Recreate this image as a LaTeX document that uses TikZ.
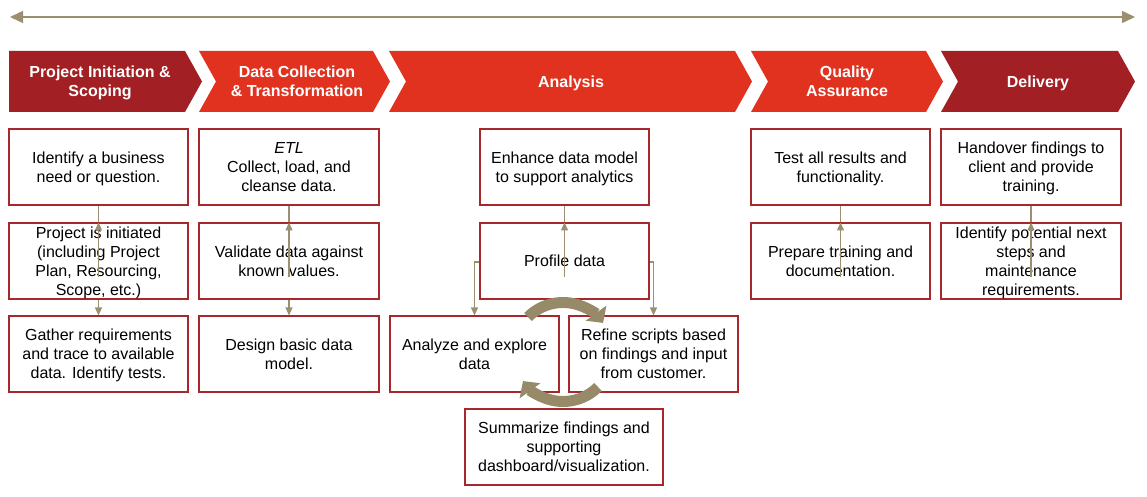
\documentclass[tikz,border=0pt]{standalone}
\usepackage{fontspec}
\setmainfont{Liberation Sans}
\usetikzlibrary{arrows.meta}
\definecolor{phasedark}{HTML}{A21F23}
\definecolor{phaselight}{HTML}{E1321F}
\definecolor{boxred}{HTML}{A5282C}
\definecolor{flowtan}{HTML}{9B8F70}
\definecolor{cycletan}{HTML}{968A69}
\tikzset{%
	taskbox/.style={draw=boxred,line width=1.1pt,fill=white,inner sep=0pt,align=center,
		minimum width=179pt,minimum height=76pt,text depth=0pt,font=\fontsize{16}{19}\selectfont},
	phasetext/.style={text=white,align=center,text depth=0pt,font=\bfseries\fontsize{16}{19}\selectfont},
	flow/.style={draw=flowtan,line width=1.1pt,-{Triangle[width=7pt,length=8pt]}},
	plainflow/.style={draw=flowtan,line width=1.1pt},
	cycle/.style={draw=cycletan,line width=11pt,-{Triangle[width=25pt,length=12pt]}}
}
\begin{document}
\begin{tikzpicture}[x=1pt,y=-1pt]
		\useasboundingbox [fill=white] (0,0) rectangle (1147,497);

		\coordinate (tl-start) at (10,17);
		\coordinate (tl-end) at (1135,17);
		\draw [flowtan,line width=1.5pt,{Triangle[width=12pt,length=13pt]}-{Triangle[width=12pt,length=13pt]}] (tl-start)--(tl-end);

		\fill [phasedark] (9,51)--(185,51)--(202,81.5)--(185,112)--(9,112)--cycle;
		\fill [phaselight] (199,51)--(373,51)--(390,81.5)--(373,112)--(199,112)--(216,81.5)--cycle;
		\fill [phaselight] (389,51)--(735,51)--(752,81.5)--(735,112)--(389,112)--(406,81.5)--cycle;
		\fill [phaselight] (751,51)--(926,51)--(943,81.5)--(926,112)--(751,112)--(768,81.5)--cycle;
		\fill [phasedark] (941,51)--(1118,51)--(1135,81.5)--(1118,112)--(941,112)--(958,81.5)--cycle;

		\node [phasetext] (initiation) at (100,81.5) {Project Initiation \&\\Scoping};
		\node [phasetext] (collection) at (297,81.5) {Data Collection\\\& Transformation};
		\node [phasetext] (analysis) at (571,81.5) {Analysis};
		\node [phasetext] (quality) at (847,81.5) {Quality\\Assurance};
		\node [phasetext] (delivery) at (1038,81.5) {Delivery};

		\node [taskbox] (ident) at (98.5,167) {Identify a business\\need or question.};
		\node [taskbox] (initiated) at (98.5,261) {Project is initiated\\(including Project\\Plan, Resourcing,\\Scope, etc.)};
		\node [taskbox] (gather) at (98.5,354) {Gather requirements\\and trace to available\\data. Identify tests.};

		\node [taskbox,minimum width=180pt] (etl) at (289,167) {\textit{ETL}\\Collect, load, and\\cleanse data.};
		\node [taskbox,minimum width=180pt] (validate) at (289,261) {Validate data against\\known values.};
		\node [taskbox,minimum width=180pt] (design) at (289,354) {Design basic data\\model.};

		\node [taskbox,minimum width=169pt] (enhance) at (564.5,167) {Enhance data model\\to support analytics};
		\node [taskbox,minimum width=169pt] (profile) at (564.5,261) {Profile data};
		\node [taskbox,minimum width=169pt] (analyze) at (474.5,354) {Analyze and explore\\data};
		\node [taskbox,minimum width=169pt] (refine) at (653.5,354) {Refine scripts based\\on findings and input\\from customer.};
		\node [taskbox,minimum width=198pt] (summarize) at (564,447) {Summarize findings and\\supporting\\dashboard/visualization.};

		\node [taskbox] (test) at (840.5,167) {Test all results and\\functionality.};
		\node [taskbox] (prepare) at (840.5,261) {Prepare training and\\documentation.};

		\node [taskbox,minimum width=180pt] (handover) at (1031,167) {Handover findings to\\client and provide\\training.};
		\node [taskbox,minimum width=180pt] (nextsteps) at (1031,261) {Identify potential next\\steps and\\maintenance\\requirements.};

		\coordinate (initiated-in) at ([yshift=-16pt]initiated.center);
		\draw [flow] (initiated-in)--(initiated.north);
		\draw [plainflow] (initiated.north)--(ident.south);
		\draw [flow] (initiated.south)--(gather.north);

		\coordinate (validate-in) at ([yshift=-16pt]validate.center);
		\draw [flow] (validate-in)--(validate.north);
		\draw [plainflow] (validate.north)--(etl.south);
		\draw [flow] (validate.south)--(design.north);

		\coordinate (profile-in) at ([yshift=-16pt]profile.center);
		\draw [flow] (profile-in)--(profile.north);
		\draw [plainflow] (profile.north)--(enhance.south);
		\draw [flow] ([yshift=-1pt]profile.west)-|(analyze.north);
		\draw [flow] ([yshift=-1pt]profile.east)-|(refine.north);

		\coordinate (prepare-in) at ([yshift=-16pt]prepare.center);
		\draw [flow] (prepare-in)--(prepare.north);
		\draw [plainflow] (prepare.north)--(test.south);

		\coordinate (nextsteps-in) at ([yshift=-16pt]nextsteps.center);
		\draw [flow] (nextsteps-in)--(nextsteps.north);
		\draw [plainflow] (nextsteps.north)--(handover.south);

		\coordinate (loop) at (563,352);
		\draw [cycle] ([shift={(-135:49.5)}]loop) arc [start angle=-135,end angle=-36,radius=49.5];
		\draw [cycle] ([shift={(45:49.5)}]loop) arc [start angle=45,end angle=144,radius=49.5];

	\end{tikzpicture}
\end{document}
